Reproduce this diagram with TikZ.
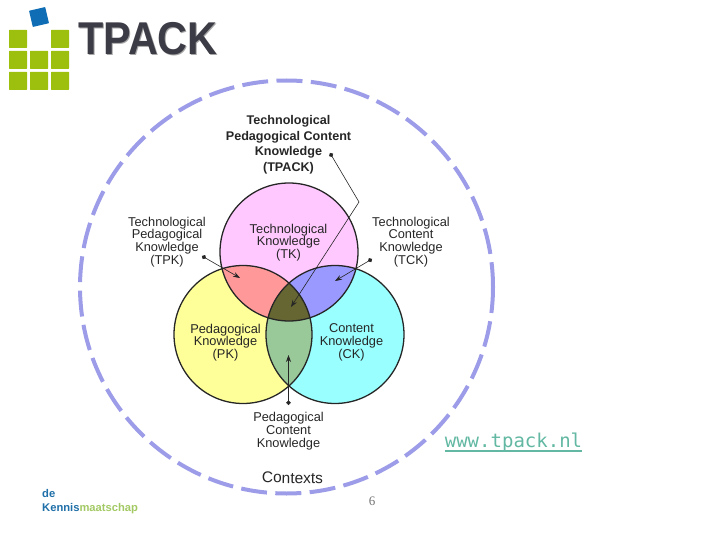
\documentclass[tikz,border=0pt]{standalone}
\usepackage{fontspec}
\setmainfont{Liberation Sans}
\newfontfamily\urlfont{DejaVu Sans Mono}
\newfontfamily\pagefont{Liberation Serif}
\usetikzlibrary{arrows.meta}
\definecolor{tkfill}{HTML}{FFC8FF}
\definecolor{pkfill}{HTML}{FFFF99}
\definecolor{ckfill}{HTML}{99FFFF}
\definecolor{tpkfill}{HTML}{FF9999}
\definecolor{tckfill}{HTML}{9999FF}
\definecolor{pckfill}{HTML}{99C899}
\definecolor{tpackfill}{HTML}{666633}
\definecolor{contextline}{HTML}{9C9CE8}
\definecolor{logogreen}{HTML}{9DBF0E}
\definecolor{logoblue}{HTML}{0F6DB5}
\definecolor{titlegrey}{HTML}{3C3C46}
\definecolor{urlteal}{HTML}{62B8A2}
\definecolor{dekennis}{HTML}{1F6FA8}
\definecolor{maatschap}{HTML}{A3C964}
\tikzset{
    kennis/.style={align=center, font=\fontsize{12.8}{12.8}\selectfont, text=black!85},
    kennisbold/.style={align=center, font=\fontsize{12.6}{15.5}\selectfont\bfseries, text=black!85},
    connector/.style={line width=0.6pt, black!85, {Circle[length=4.5pt]}-{Stealth[length=7pt,width=5pt]}},
    logoblock/.style={fill=logogreen, rounded corners=0.5pt},
    venn/.style={line width=1.3pt, black!85},
}
\begin{document}
\begin{tikzpicture}[x=1pt, y=-1pt]
    \useasboundingbox (0,0) rectangle (720,540);

    % ================= Logo =================
    \foreach \col/\row in {0/0, 2/0, 0/1, 1/1, 2/1, 0/2, 1/2, 2/2} {
        \fill[logoblock] (9+21*\col,30+21*\row) rectangle ++(18,18);
    }
    \fill[logoblue, rounded corners=0.5pt, rotate around={13:(39,17)}] (30.7,8.7) rectangle (47.3,25.3);
    \node[text=black!35, font=\fontsize{46}{46}\selectfont\bfseries, xscale=0.9] (titleshade) at (149,40) {TPACK};
    \node[text=titlegrey, font=\fontsize{46}{46}\selectfont\bfseries, xscale=0.9] (title) at (148,39) {TPACK};

    % ================= Contexts =================
    \draw[contextline, line width=4pt, dash pattern=on 26pt off 8.4pt] (286.5,287) circle (206.5);
    \node[font=\fontsize{15.5}{16}\selectfont, text=black!85, rotate=-1] (contexts) at (292.5,478) {Contexts};

    % ================= Circles =================
    \fill[tkfill] (289,252) circle (69);
    \fill[pkfill] (243,334.5) circle (69);
    \fill[ckfill] (335,334.5) circle (69);

    % Overlaps
    \begin{scope}
        \clip (289,252) circle (69);
        \fill[tpkfill] (243,334.5) circle (69);
        \fill[tckfill] (335,334.5) circle (69);
    \end{scope}
    \begin{scope}
        \clip (243,334.5) circle (69);
        \fill[pckfill] (335,334.5) circle (69);
        \clip (335,334.5) circle (69);
        \fill[tpackfill] (289,252) circle (69);
    \end{scope}

    % Outlines
    \draw[venn] (289,252) circle (69);
    \draw[venn] (243,334.5) circle (69);
    \draw[venn] (335,334.5) circle (69);

    % ================= Labels =================
    \node[kennisbold] (tpack) at (288.5,144.5) {Technological\\Pedagogical Content\\Knowledge\\(TPACK)};
    \node[kennis] (tk) at (288.5,242.5) {Technological\\Knowledge\\(TK)};
    \node[kennis] (tpk) at (167,242) {Technological\\Pedagogical\\Knowledge\\(TPK)};
    \node[kennis] (tck) at (411,242) {Technological\\Content\\Knowledge\\(TCK)};
    \node[kennis] (pk) at (225.5,342.5) {Pedagogical\\Knowledge\\(PK)};
    \node[kennis] (ck) at (351.5,342.5) {Content\\Knowledge\\(CK)};
    \node[kennis] (pck) at (288.5,431) {Pedagogical\\Content\\Knowledge};

    % ================= Connectors =================
    \coordinate (tpackdot) at (330,153);
    \coordinate (tpackbend) at (359,202);
    \coordinate (tpacktip) at (291,307);
    \coordinate (tpkdot) at (202,256);
    \coordinate (tpktip) at (240,278);
    \coordinate (tckdot) at (372,259);
    \coordinate (tcktip) at (335,281);
    \coordinate (pckdot) at (288.5,405);
    \coordinate (pcktip) at (288.5,355);
    \draw[connector] (tpackdot) -- (tpackbend) -- (tpacktip);
    \draw[connector] (tpkdot) -- (tpktip);
    \draw[connector] (tckdot) -- (tcktip);
    \draw[connector] (pckdot) -- (pcktip);

    % ================= Footer =================
    \node[text=urlteal, font=\urlfont\fontsize{19}{19}\selectfont, inner sep=0pt, anchor=base] (site) at (513.5,447) {www.tpack.nl};
    \draw[urlteal, line width=2pt] (site.base west |- 0,450.5) -- (site.base east |- 0,450.5);
    \node[align=left, font=\fontsize{11.2}{13.5}\selectfont\bfseries, inner sep=0pt, anchor=west] (brand) at (42,501.5)
        {\textcolor{dekennis}{de}\\\textcolor{dekennis}{Kennis}\textcolor{maatschap}{maatschap}};
    \node[font=\pagefont\fontsize{13}{13}\selectfont, text=black!55] (page) at (372,501) {6};
\end{tikzpicture}
\end{document}
